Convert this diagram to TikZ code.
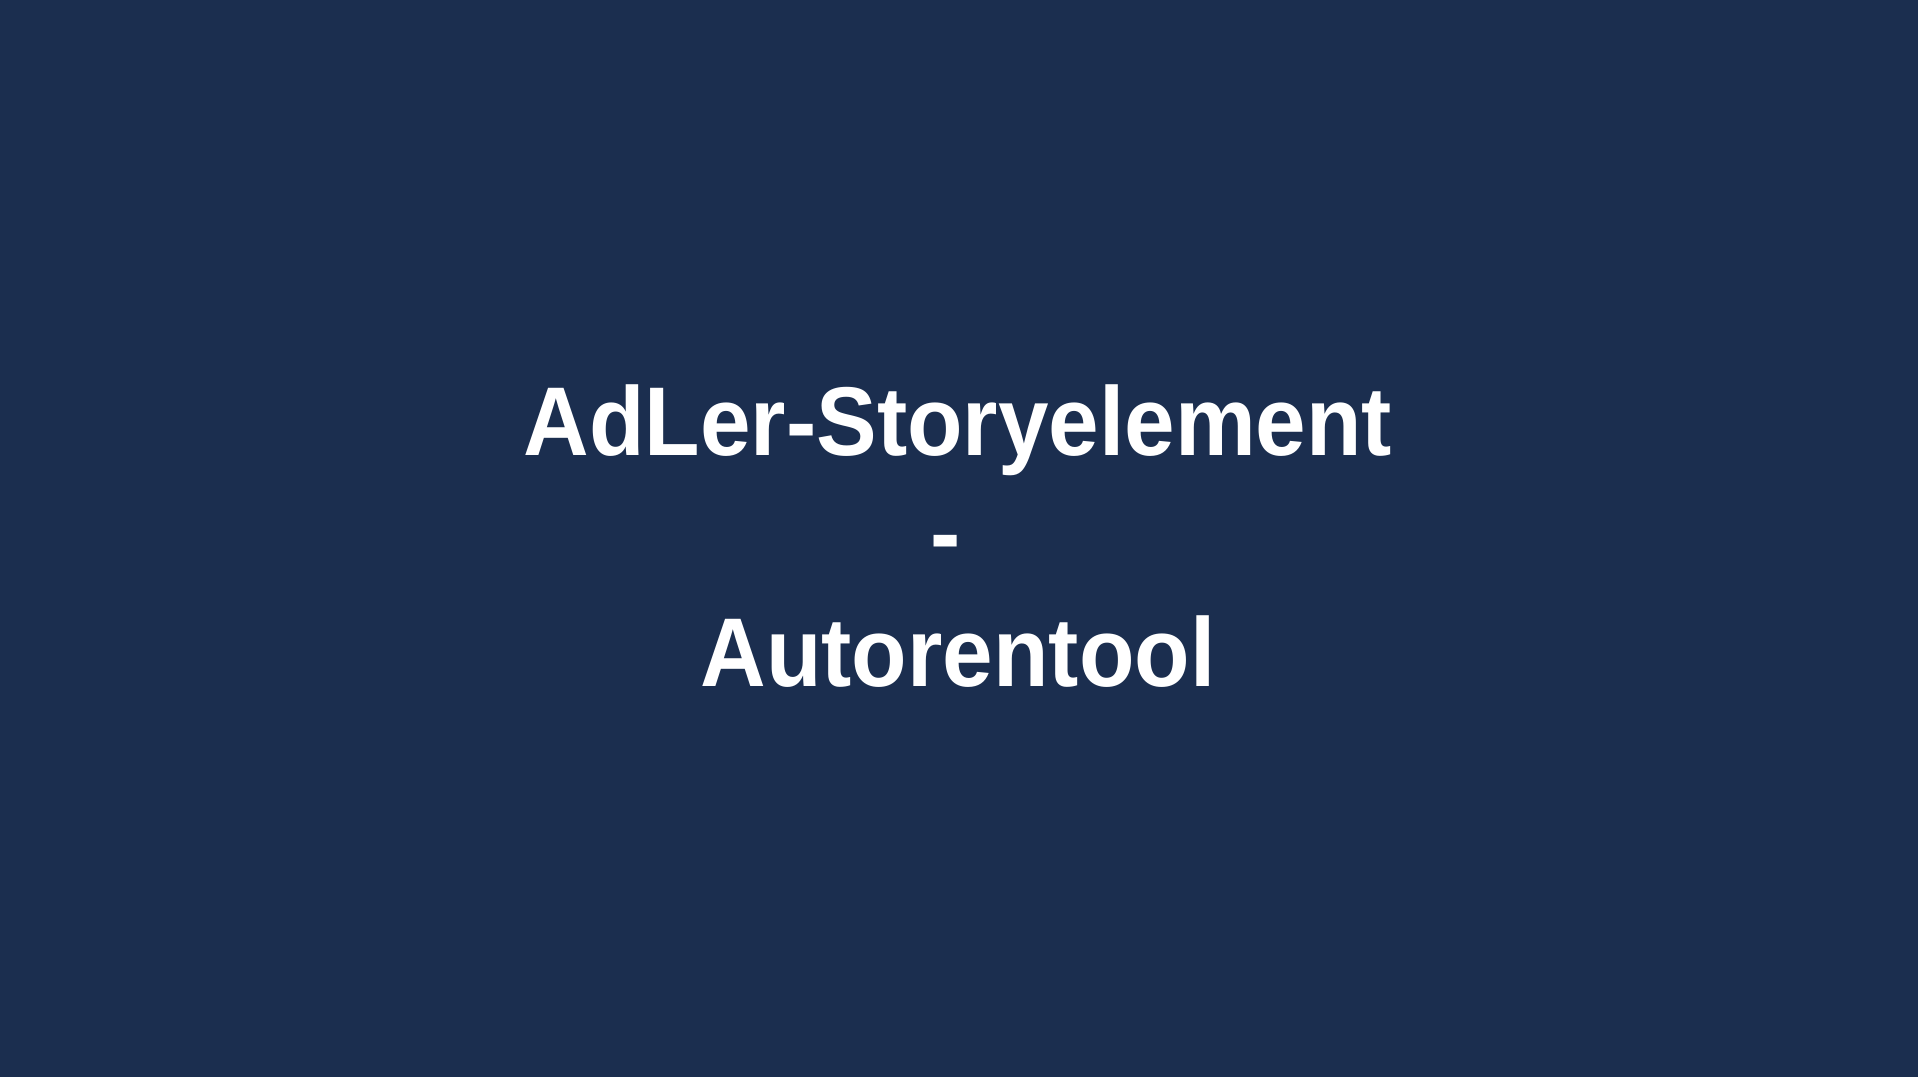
\documentclass[tikz,border=0pt]{standalone}
\usepackage{fontspec}
\setmainfont{Liberation Sans}[FakeStretch=0.93]
\usepackage{xcolor}
\definecolor{slidebg}{HTML}{1B2E4F}

\begin{document}
\begin{tikzpicture}[
    heading/.style={anchor=base, text=white, inner sep=0pt,
        font=\fontsize{27.8}{33}\selectfont\bfseries}
]
    \fill[slidebg] (0,0) rectangle (19.18,10.77);
    \useasboundingbox (0,0) rectangle (19.18,10.77);
    \node[heading] (title) at (9.58,6.21) {AdLer-Storyelement};
    \node[heading] (sep) at (9.46,5.10) {-};
    \node[heading] (tool) at (9.58,3.90) {Autorentool};
\end{tikzpicture}
\end{document}
